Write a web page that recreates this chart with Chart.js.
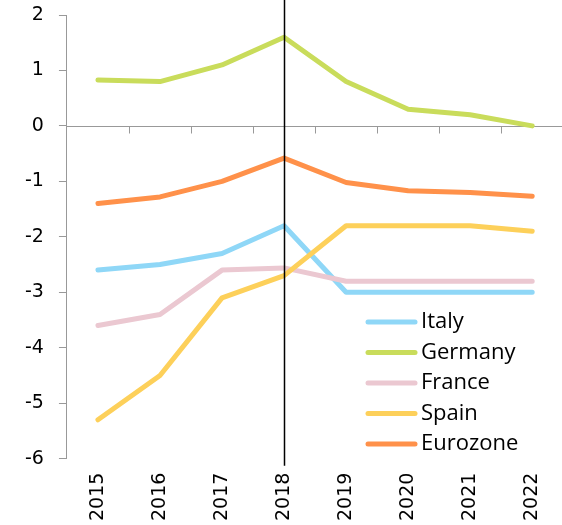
<!DOCTYPE html>
<html>
<head>
<meta charset="utf-8">
<script src="https://cdn.jsdelivr.net/npm/chart.js@4"></script>
<style>
  html, body { margin: 0; padding: 0; background: #fff; overflow: hidden; }
  #wrap { position: relative; width: 569px; height: 525px; }
</style>
</head>
<body>
<div id="wrap"><canvas id="chart"></canvas></div>
<script>
// Yearly values per country
const years = ["2015", "2016", "2017", "2018", "2019", "2020", "2021", "2022"];
const italy    = [-2.6, -2.5, -2.3, -1.8, -3.0, -3.0, -3.0, -3.0];
const germany  = [0.83, 0.8, 1.1, 1.6, 0.8, 0.3, 0.2, 0.0];
const france   = [-3.6, -3.4, -2.6, -2.56, -2.8, -2.8, -2.8, -2.8];
const spain    = [-5.3, -4.5, -3.1, -2.7, -1.8, -1.8, -1.8, -1.9];
const eurozone = [-1.4, -1.28, -1.0, -0.58, -1.02, -1.17, -1.2, -1.27];

const seriesNames  = ["Italy", "Germany", "France", "Spain", "Eurozone"];
const seriesValues = [italy, germany, france, spain, eurozone];
const seriesColors = ["#8fd7f7", "#c9dc5b", "#ebc8d1", "#fdd05a", "#ff914a"];
const markerYear = "2018";

const tickFont = { family: "DejaVu Sans", size: 19 };

// zero line with small ticks between categories, plus the 2018 marker line
const overlay = {
  id: "overlay",
  beforeDatasetsDraw(chart) {
    const { ctx, chartArea, scales: { x, y } } = chart;
    const y0 = Math.round(y.getPixelForValue(0)) + 0.5;
    ctx.save();
    ctx.strokeStyle = "#999";
    ctx.lineWidth = 1;
    ctx.beginPath();
    ctx.moveTo(chartArea.left, y0);
    ctx.lineTo(chartArea.right, y0);
    for (let i = 1; i < years.length; i++) {
      const bx = Math.round((x.getPixelForValue(i - 1) + x.getPixelForValue(i)) / 2) + 0.5;
      ctx.moveTo(bx, y0);
      ctx.lineTo(bx, y0 + 7);
    }
    ctx.stroke();
    ctx.restore();
  },
  afterDatasetsDraw(chart) {
    const { ctx, chartArea, scales: { x } } = chart;
    const mx = Math.round(x.getPixelForValue(years.indexOf(markerYear))) + 0.5;
    ctx.save();
    ctx.strokeStyle = "#000";
    ctx.lineWidth = 1.5;
    ctx.beginPath();
    ctx.moveTo(mx, 0);
    ctx.lineTo(mx, chartArea.bottom + 7);
    ctx.stroke();
    ctx.restore();
  },
  afterDraw(chart) {
    // legend in the lower right of the plot
    const { ctx } = chart;
    const left = 366, top = 322, rowGap = 30.5, lineLen = 51;
    ctx.save();
    ctx.font = "22px 'Open Sans'";
    ctx.textBaseline = "middle";
    ctx.fillStyle = "#000";
    ctx.lineCap = "round";
    ctx.lineWidth = 5;
    seriesNames.forEach((name, i) => {
      const cy = top + i * rowGap;
      ctx.strokeStyle = seriesColors[i];
      ctx.beginPath();
      ctx.moveTo(left + 2, cy);
      ctx.lineTo(left + lineLen - 2, cy);
      ctx.stroke();
      ctx.fillText(name, left + lineLen + 4, cy);
    });
    ctx.restore();
  }
};

new Chart(document.getElementById("chart"), {
  type: "line",
  data: {
    labels: years,
    datasets: seriesNames.map((name, i) => ({
      label: name,
      data: seriesValues[i],
      borderColor: seriesColors[i],
      backgroundColor: seriesColors[i],
      borderWidth: 5,
      borderCapStyle: "round",
      borderJoinStyle: "round",
      pointRadius: 0,
      tension: 0,
      order: seriesNames.length - i
    }))
  },
  options: {
    responsive: true,
    maintainAspectRatio: false,
    animation: false,
    layout: { padding: { top: 0, left: 10, right: 0, bottom: -10 } },
    plugins: { legend: { display: false }, tooltip: { enabled: false } },
    scales: {
      x: {
        offset: true,
        grid: { display: false, drawTicks: false },
        border: { display: false },
        ticks: { color: "#000", font: tickFont, minRotation: 90, maxRotation: 90, padding: 14 }
      },
      y: {
        min: -6,
        max: 2,
        grid: { drawOnChartArea: false, color: "#999", tickLength: 8 },
        border: { color: "#999", width: 1 },
        ticks: { color: "#000", font: tickFont, stepSize: 1, padding: 15 },
        afterFit(scale) {
          // keep the top value label close to the canvas edge
          scale.paddingTop = 15;
        }
      }
    }
  },
  plugins: [overlay]
});
</script>
</body>
</html>
